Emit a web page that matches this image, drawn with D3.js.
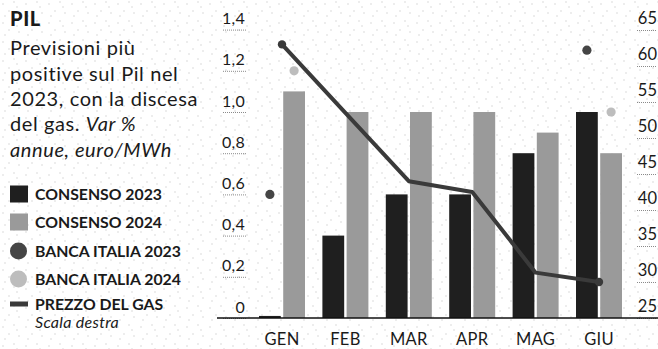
<!DOCTYPE html>
<html>
<head>
<meta charset="utf-8">
<script src="https://cdn.jsdelivr.net/npm/d3@7"></script>
<style>
  html, body { margin: 0; padding: 0; background: #fff; }
  svg { display: block; }
  text { font-family: Lato, "Noto Sans", sans-serif; fill: #1a1a1a; }
</style>
</head>
<body>
<svg id="chart" width="658" height="349"></svg>
<script>
// Monthly GDP forecasts (% yearly change) and gas price (euro/MWh)
const months = ["GEN", "FEB", "MAR", "APR", "MAG", "GIU"];
const consenso2023 = [0.01, 0.4, 0.6, 0.6, 0.8, 1.0];
const consenso2024 = [1.1, 1.0, 1.0, 1.0, 0.9, 0.8];
const bancaItalia2023 = [0.6, null, null, null, null, 1.3];
const bancaItalia2024 = [1.2, null, null, null, null, 1.0];
const prezzoGas = [63, 53.5, 44, 42.5, 31.3, 30];
const leftTicks = [0, 0.2, 0.4, 0.6, 0.8, 1.0, 1.2, 1.4];
const rightTicks = [25, 30, 35, 40, 45, 50, 55, 60, 65];

const legendItems = [
  { label: "CONSENSO 2023", kind: "rect", color: "#1f1f1f" },
  { label: "CONSENSO 2024", kind: "rect", color: "#9a9a9a" },
  { label: "BANCA ITALIA 2023", kind: "dot", color: "#454545" },
  { label: "BANCA ITALIA 2024", kind: "dot", color: "#bdbdbd" },
  { label: "PREZZO DEL GAS", kind: "line", color: "#3a3a3a" }
];

const colors = { c23: "#1f1f1f", c24: "#9a9a9a", b23: "#454545", b24: "#bdbdbd", gas: "#3a3a3a" };

const svg = d3.select("#chart");

// speckled paper background
const defs = svg.append("defs");
const pat = defs.append("pattern")
  .attr("id", "speckle").attr("patternUnits", "userSpaceOnUse")
  .attr("width", 23).attr("height", 19);
pat.append("rect").attr("width", 23).attr("height", 19).attr("fill", "#ffffff");
[[3, 4], [14, 2], [9, 11], [19, 13], [5, 16], [17, 7]].forEach(([x, y]) => {
  pat.append("circle").attr("cx", x).attr("cy", y).attr("r", 0.7).attr("fill", "#cfcfcf");
});
svg.append("rect").attr("width", 658).attr("height", 349).attr("fill", "url(#speckle)");

// scales
const yL = d3.scaleLinear().domain([0, 1.4]).range([318, 29.6]);
const yR = d3.scaleLinear().domain([25, 65]).range([318, 30]);
const x = d3.scalePoint().domain(months).range([250.3, 630.7]).padding(0.5);
const xs = d3.scaleBand().domain(["c23", "c24"]).range([-23, 23]).paddingInner(0.1);

// left axis
const fmt = d => d === 0 ? "0" : d3.format(".1f")(d).replace(".", ",");
const gL = svg.append("g").attr("transform", "translate(246,0)")
  .call(d3.axisLeft(yL).tickValues(leftTicks).tickFormat(fmt).tickSizeInner(24).tickSizeOuter(0));
gL.select(".domain").remove();
gL.selectAll(".tick line").attr("stroke", "#8a8a8a").attr("stroke-width", 1).attr("stroke-dasharray", "1,1");
gL.selectAll(".tick text").attr("x", -1).attr("dy", -6).attr("text-anchor", "end")
  .style("font-family", "Lato, sans-serif").style("font-size", "16px")
  .style("letter-spacing", "0.3px").style("fill", "#1a1a1a");

// right axis
const gR = svg.append("g").attr("transform", "translate(637,0)")
  .call(d3.axisRight(yR).tickValues(rightTicks).tickSizeInner(20).tickSizeOuter(0));
gR.select(".domain").remove();
gR.selectAll(".tick line").attr("stroke", "#8a8a8a").attr("stroke-width", 1).attr("stroke-dasharray", "1,1");
gR.selectAll(".tick text").attr("x", 20).attr("dy", -7).attr("text-anchor", "end")
  .style("font-family", "Lato, sans-serif").style("font-size", "16.5px").style("fill", "#1a1a1a");

// bars
const barData = [];
months.forEach((m, i) => {
  barData.push({ m, key: "c23", v: consenso2023[i] });
  barData.push({ m, key: "c24", v: consenso2024[i] });
});
svg.append("g").selectAll("rect").data(barData).join("rect")
  .attr("x", d => x(d.m) + xs(d.key))
  .attr("width", xs.bandwidth())
  .attr("y", d => yL(d.v))
  .attr("height", d => yL(0) - yL(d.v))
  .attr("fill", d => colors[d.key]);

// baseline
svg.append("line").attr("x1", 217).attr("x2", 658).attr("y1", yL(0)).attr("y2", yL(0))
  .attr("stroke", "#111").attr("stroke-width", 1.5);

// gas price line (right scale)
const gasPts = months.map((m, i) => [x(m), yR(prezzoGas[i])]);
svg.append("path").datum(gasPts)
  .attr("d", d3.line())
  .attr("fill", "none").attr("stroke", colors.gas).attr("stroke-width", 4)
  .attr("stroke-linejoin", "round");
svg.append("g").selectAll("circle").data([gasPts[0], gasPts[gasPts.length - 1]]).join("circle")
  .attr("cx", d => d[0]).attr("cy", d => d[1]).attr("r", 4.2).attr("fill", colors.gas);

// Banca d'Italia forecasts
const dotData = [];
months.forEach((m, i) => {
  if (bancaItalia2023[i] != null) dotData.push({ m, key: "c23", v: bancaItalia2023[i], c: colors.b23 });
  if (bancaItalia2024[i] != null) dotData.push({ m, key: "c24", v: bancaItalia2024[i], c: colors.b24 });
});
svg.append("g").selectAll("circle").data(dotData).join("circle")
  .attr("cx", d => x(d.m) + xs(d.key) + xs.bandwidth() / 2)
  .attr("cy", d => yL(d.v))
  .attr("r", 4.6)
  .attr("fill", d => d.c);

// month labels
svg.append("g").selectAll("text").data(months).join("text")
  .attr("x", d => x(d)).attr("y", 345)
  .attr("text-anchor", "middle")
  .style("font-size", "16.5px")
  .style("letter-spacing", "0.3px")
  .text(d => d);

// title block
svg.append("text").attr("x", 10).attr("y", 26)
  .style("font-size", "20px").style("font-weight", 900)
  .style("letter-spacing", "0.6px").text("PIL");

const sub = [
  [{ t: "Previsioni più" }],
  [{ t: "positive sul Pil nel" }],
  [{ t: "2023, con la discesa" }],
  [{ t: "del gas. " }, { t: "Var %", i: true }],
  [{ t: "annue, euro/MWh", i: true }]
];
const subBase = [55, 81, 106, 131, 157];
sub.forEach((parts, li) => {
  const t = svg.append("text").attr("x", 10).attr("y", subBase[li])
    .style("font-size", "20px").style("letter-spacing", "0.6px");
  parts.forEach(p => t.append("tspan").style("font-style", p.i ? "italic" : "normal").text(p.t));
});

// legend
const legBase = [200, 228, 257, 285, 310];
const leg = svg.append("g");
legendItems.forEach((it, i) => {
  const cy = legBase[i] - 6;
  if (it.kind === "rect") {
    leg.append("rect").attr("x", 10).attr("y", cy - 8.5).attr("width", 18).attr("height", 17).attr("fill", it.color);
  } else if (it.kind === "dot") {
    leg.append("circle").attr("cx", 18.5).attr("cy", cy).attr("r", 8.5).attr("fill", it.color);
  } else {
    leg.append("rect").attr("x", 10).attr("y", cy - 2.5).attr("width", 18).attr("height", 5).attr("fill", it.color);
  }
  leg.append("text").attr("x", 35).attr("y", legBase[i])
    .style("font-size", "15.8px").style("font-weight", 700).text(it.label);
});
leg.append("text").attr("x", 35).attr("y", 328)
  .style("font-size", "16px").style("font-style", "italic")
  .style("letter-spacing", "0.3px").text("Scala destra");
</script>
</body>
</html>
